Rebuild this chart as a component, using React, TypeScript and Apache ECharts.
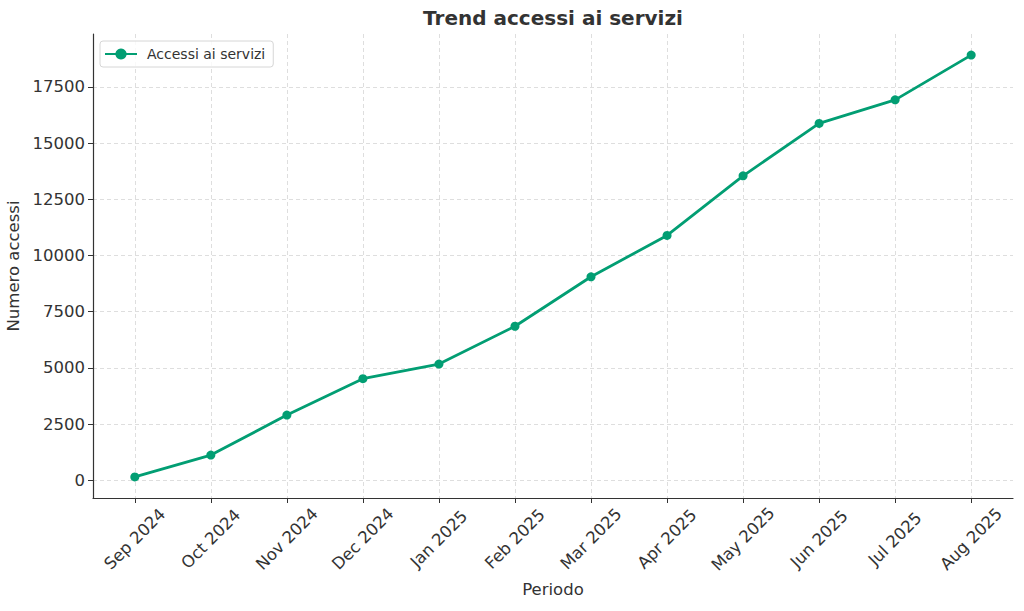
import React, { useEffect, useRef } from "react";
import * as echarts from "echarts";

const months = [
  "Sep 2024", "Oct 2024", "Nov 2024", "Dec 2024", "Jan 2025", "Feb 2025",
  "Mar 2025", "Apr 2025", "May 2025", "Jun 2025", "Jul 2025", "Aug 2025",
];
const accessi = [150, 1120, 2900, 4520, 5170, 6850, 9050, 10890, 13540, 15870, 16920, 18910];
const yTicks = [0, 2500, 5000, 7500, 10000, 12500, 15000, 17500];
const seriesName = "Accessi ai servizi";
const titleText = "Trend accessi ai servizi";
const xName = "Periodo";
const yName = "Numero accessi";

const FONT = "DejaVu Sans";
const GREEN = "#029E73";
const TEXT = "#333333";

export default function App() {
  const ref = useRef<HTMLDivElement>(null);
  useEffect(() => {
    document.body.style.margin = "0";
    const chart = echarts.init(ref.current!, null, { renderer: "svg" });
    const xIdx = months.map((_, i) => i);
    const n = accessi.length;
    const lo = Math.min(...accessi);
    const hi = Math.max(...accessi);
    const pad = (hi - lo) * 0.05;
    chart.setOption({
      animation: false,
      backgroundColor: "#ffffff",
      textStyle: { fontFamily: FONT, color: TEXT },
      graphic: [
        {
          type: "text",
          x: 553,
          y: 18,
          style: {
            text: titleText,
            fontFamily: FONT,
            fontSize: 20,
            fontWeight: "bold",
            fill: TEXT,
            textAlign: "center",
            textVerticalAlign: "middle",
          },
        },
      ],
      legend: {
        left: 100,
        top: 41,
        orient: "vertical",
        padding: [6, 8, 6, 4],
        itemWidth: 32,
        itemHeight: 14,
        borderColor: "#d6d6d6",
        borderWidth: 1,
        borderRadius: 3,
        backgroundColor: "rgba(255,255,255,0.8)",
        textStyle: { fontFamily: FONT, fontSize: 14, color: TEXT, padding: [0, 0, 0, 5] },
        data: [seriesName],
      },
      grid: { left: 93, right: 11, top: 34, bottom: 113, containLabel: false, outerBoundsMode: "none" },
      xAxis: {
        type: "value",
        min: -0.55,
        max: n - 1 + 0.55,
        name: xName,
        nameLocation: "middle",
        nameGap: 82,
        nameTextStyle: { fontFamily: FONT, fontSize: 16.5, color: TEXT, verticalAlign: "top" },
        axisLine: { show: true, onZero: false, lineStyle: { color: "#333333", width: 1.2 } },
        axisTick: { show: true, length: 5, customValues: xIdx, lineStyle: { color: "#333333" } },
        axisLabel: {
          customValues: xIdx,
          formatter: (v: number) => months[Math.round(v)] ?? "",
          rotate: 45,
          align: "center",
          verticalAlign: "middle",
          margin: 41,
          fontFamily: FONT,
          fontSize: 16.5,
          color: TEXT,
        },
        splitLine: { show: true, lineStyle: { color: "#d6d6d6", type: [4, 3], width: 0.8 } },
      },
      yAxis: {
        type: "value",
        min: lo - pad,
        max: hi + pad,
        name: yName,
        nameLocation: "middle",
        nameGap: 65,
        nameRotate: 90,
        nameTextStyle: { fontFamily: FONT, fontSize: 16.5, color: TEXT },
        axisLine: { show: true, onZero: false, lineStyle: { color: "#333333", width: 1.2 } },
        axisTick: { show: true, length: 5, customValues: yTicks, lineStyle: { color: "#333333" } },
        axisLabel: {
          customValues: yTicks,
          formatter: (v: number) => String(Math.round(v)),
          margin: 8,
          fontFamily: FONT,
          fontSize: 16.5,
          color: TEXT,
        },
        splitLine: { show: true, lineStyle: { color: "#d6d6d6", type: [4, 3], width: 0.8 } },
      },
      series: [
        {
          name: seriesName,
          type: "line",
          data: accessi.map((v, i) => [i, v]),
          symbol: "circle",
          symbolSize: 9,
          lineStyle: { color: GREEN, width: 2.8 },
          itemStyle: { color: GREEN },
          z: 3,
        },
      ],
    });
    return () => chart.dispose();
  }, []);
  return <div ref={ref} style={{ width: 1024, height: 611 }} />;
}
